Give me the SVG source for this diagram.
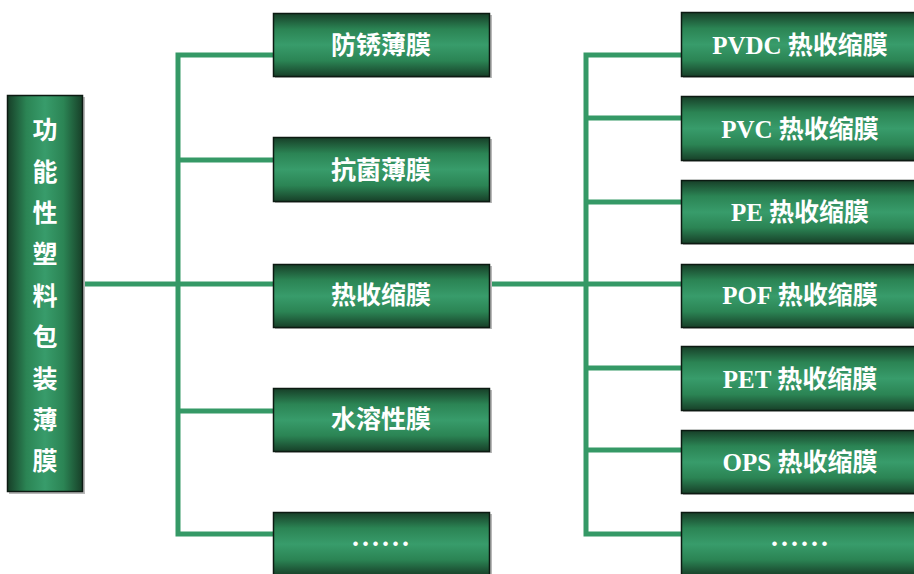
<svg xmlns="http://www.w3.org/2000/svg" width="914" height="574" viewBox="0 0 914 574">
<defs>
<linearGradient id="gv" x1="0" y1="0" x2="0" y2="1">
<stop offset="0" stop-color="#173f28"/>
<stop offset="0.25" stop-color="#2b8454"/>
<stop offset="0.5" stop-color="#389c6b"/>
<stop offset="0.75" stop-color="#2b8454"/>
<stop offset="1" stop-color="#173f28"/>
</linearGradient>
<linearGradient id="gh" x1="0" y1="0" x2="1" y2="0">
<stop offset="0" stop-color="#173f28"/>
<stop offset="0.25" stop-color="#2b8454"/>
<stop offset="0.5" stop-color="#389c6b"/>
<stop offset="0.75" stop-color="#2b8454"/>
<stop offset="1" stop-color="#173f28"/>
</linearGradient>
</defs>
<style>
.box{fill:url(#gv);stroke:#0c1a12;stroke-width:1.5}
.vbox{fill:url(#gh);stroke:#0c1a12;stroke-width:1.5}
.sh{fill:#b8b8b8}
.t{fill:#ffffff;font-family:"Liberation Serif","Noto Sans CJK SC",serif;font-weight:bold;font-size:25px;text-anchor:middle;dominant-baseline:central}
.d{letter-spacing:3px;font-size:28px}
.c{fill:none;stroke:#359966;stroke-width:5}
</style>
<rect width="914" height="574" fill="#ffffff"/>
<g id="connectors">
<path class="c" d="M83 284 H273"/>
<path class="c" d="M273 55 H178 V534 H273"/>
<path class="c" d="M178 160 H273"/>
<path class="c" d="M178 411 H273"/>
<path class="c" d="M490 284 H681"/>
<path class="c" d="M681 55 H586 V534 H681"/>
<path class="c" d="M586 118 H681"/>
<path class="c" d="M586 202 H681"/>
<path class="c" d="M586 368 H681"/>
<path class="c" d="M586 450 H681"/>
</g>
<g id="root">
<rect class="sh" x="9" y="97" width="76" height="397"/>
<rect class="vbox" x="7.5" y="95.5" width="75" height="396"/>
<text class="t" x="45" y="130">功</text>
<text class="t" x="45" y="172">能</text>
<text class="t" x="45" y="213">性</text>
<text class="t" x="45" y="254">塑</text>
<text class="t" x="45" y="296">料</text>
<text class="t" x="45" y="337">包</text>
<text class="t" x="45" y="379">装</text>
<text class="t" x="45" y="420">薄</text>
<text class="t" x="45" y="461">膜</text>
</g>
<g id="m1"><rect class="sh" x="275" y="15" width="217" height="63"/><rect class="box" x="273.5" y="13.5" width="216" height="63"/><text class="t" x="381" y="45">防锈薄膜</text></g>
<g id="m2"><rect class="sh" x="275" y="139" width="217" height="64"/><rect class="box" x="273.5" y="137.5" width="216" height="64"/><text class="t" x="381" y="170">抗菌薄膜</text></g>
<g id="m3"><rect class="sh" x="275" y="266" width="217" height="63"/><rect class="box" x="273.5" y="264.5" width="216" height="63"/><text class="t" x="381" y="295">热收缩膜</text></g>
<g id="m4"><rect class="sh" x="275" y="390" width="217" height="63"/><rect class="box" x="273.5" y="388.5" width="216" height="63"/><text class="t" x="381" y="419">水溶性膜</text></g>
<g id="m5"><rect class="sh" x="275" y="514" width="217" height="63"/><rect class="box" x="273.5" y="512.5" width="216" height="63"/><text class="t d" x="382" y="536">......</text></g>
<g id="r1"><rect class="sh" x="683" y="14" width="238" height="64"/><rect class="box" x="681.5" y="12.5" width="237" height="64"/><text class="t" x="800" y="45">PVDC 热收缩膜</text></g>
<g id="r2"><rect class="sh" x="683" y="98" width="238" height="64"/><rect class="box" x="681.5" y="96.5" width="237" height="64"/><text class="t" x="800" y="129">PVC 热收缩膜</text></g>
<g id="r3"><rect class="sh" x="683" y="182" width="238" height="63"/><rect class="box" x="681.5" y="180.5" width="237" height="63"/><text class="t" x="800" y="212">PE 热收缩膜</text></g>
<g id="r4"><rect class="sh" x="683" y="266" width="238" height="63"/><rect class="box" x="681.5" y="264.5" width="237" height="63"/><text class="t" x="800" y="295">POF 热收缩膜</text></g>
<g id="r5"><rect class="sh" x="683" y="348" width="238" height="64"/><rect class="box" x="681.5" y="346.5" width="237" height="64"/><text class="t" x="800" y="379">PET 热收缩膜</text></g>
<g id="r6"><rect class="sh" x="683" y="432" width="238" height="63"/><rect class="box" x="681.5" y="430.5" width="237" height="63"/><text class="t" x="800" y="462">OPS 热收缩膜</text></g>
<g id="r7"><rect class="sh" x="683" y="514" width="238" height="63"/><rect class="box" x="681.5" y="512.5" width="237" height="63"/><text class="t d" x="801" y="536">......</text></g>
</svg>
